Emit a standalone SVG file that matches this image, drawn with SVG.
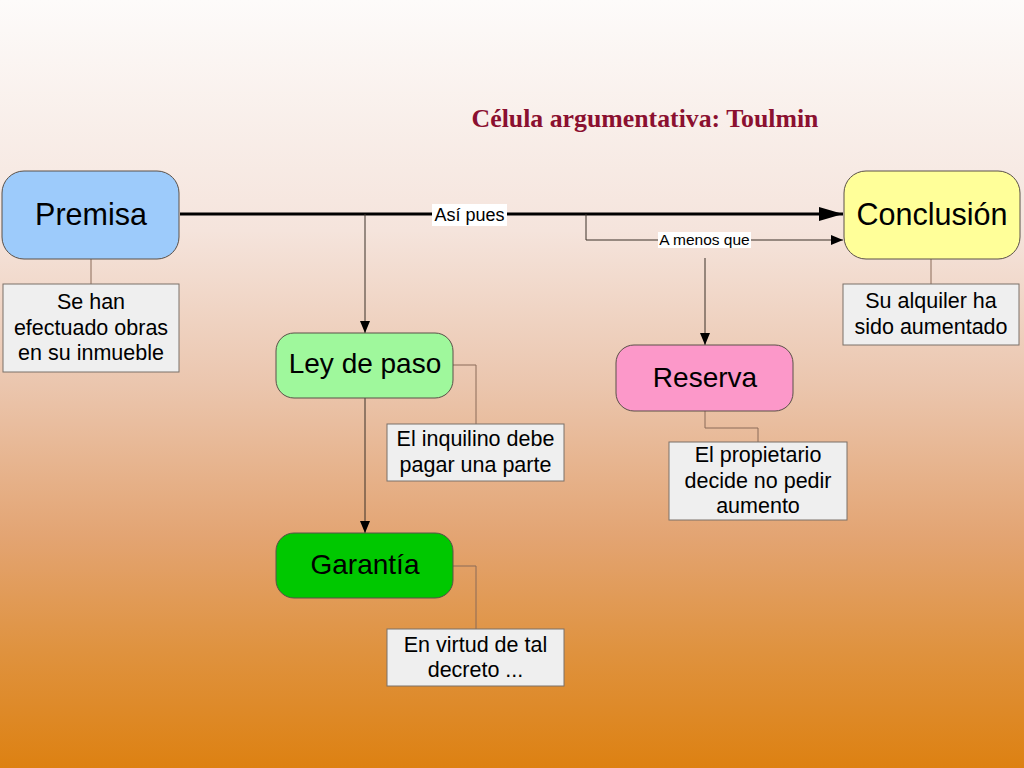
<svg xmlns="http://www.w3.org/2000/svg" width="1024" height="768" viewBox="0 0 1024 768">
<defs>
<linearGradient id="bg" x1="0" y1="0" x2="0" y2="1">
<stop offset="0" stop-color="#fdfbfa"/>
<stop offset="0.3" stop-color="#f5e4dc"/>
<stop offset="0.5" stop-color="#ebc6ae"/>
<stop offset="0.7" stop-color="#e3a472"/>
<stop offset="0.85" stop-color="#df923e"/>
<stop offset="1" stop-color="#dd8112"/>
</linearGradient>
<marker id="big" viewBox="0 0 24 14" refX="24" refY="7" markerWidth="24" markerHeight="14" markerUnits="userSpaceOnUse" orient="auto">
<path d="M0,0 L24,7 L0,14 Z" fill="#000"/>
</marker>
<marker id="small" viewBox="0 0 12 10" refX="12" refY="5" markerWidth="12" markerHeight="10" markerUnits="userSpaceOnUse" orient="auto">
<path d="M0,0 L12,5 L0,10 Z" fill="#000"/>
</marker>
<style>
.node{stroke:#5a5048;stroke-width:1}
.note{fill:#efefef;stroke:#7a7068;stroke-width:1}
.big{font-family:"Liberation Sans",Arial,sans-serif;font-size:30.5px;fill:#000;text-anchor:middle}
.mid{font-family:"Liberation Sans",Arial,sans-serif;font-size:28px;fill:#000;text-anchor:middle}
.nt{font-family:"Liberation Sans",Arial,sans-serif;font-size:21.5px;fill:#000;text-anchor:middle}
.lbl{font-family:"Liberation Sans",Arial,sans-serif;fill:#000;text-anchor:middle}
.thin{fill:none;stroke:#3a3028;stroke-width:1}
.link{fill:none;stroke:#8a6a58;stroke-width:1}
</style>
</defs>
<rect x="0" y="0" width="1024" height="768" fill="url(#bg)"/>
<text x="645" y="127" font-family="Liberation Serif,'Times New Roman',serif" font-size="25.8" font-weight="bold" fill="#8b1030" text-anchor="middle">Célula argumentativa: Toulmin</text>

<g id="connectors">
<line x1="180" y1="214" x2="843" y2="214" stroke="#000" stroke-width="3" marker-end="url(#big)"/>
<polyline class="thin" points="365,214 365,333" marker-end="url(#small)"/>
<polyline class="thin" points="365,398 365,533" marker-end="url(#small)"/>
<polyline class="thin" points="586,214 586,240 843,240" marker-end="url(#small)"/>
<polyline class="thin" points="705,258 705,345" marker-end="url(#small)"/>
<line class="link" x1="91" y1="259" x2="91" y2="284"/>
<line class="link" x1="931" y1="259" x2="931" y2="284"/>
<polyline class="link" points="453,365 476,365 476,424"/>
<polyline class="link" points="453,566 476,566 476,629"/>
<polyline class="link" points="705,411 705,428 758,428 758,442"/>
<rect x="432" y="204" width="75" height="22" fill="#fff"/>
<text class="lbl" x="469.5" y="221" font-size="18">Así pues</text>
<rect x="658" y="232" width="93" height="16" fill="#fff"/>
<text class="lbl" x="704.5" y="245" font-size="15.5">A menos que</text>
</g>

<g id="premisa">
<rect class="node" x="2" y="171" width="177" height="88" rx="22" fill="#9dcbfb"/>
<text class="big" x="91" y="225">Premisa</text>
</g>
<g id="premisa-nota">
<rect class="note" x="3" y="284" width="176" height="88"/>
<text class="nt" x="91" y="309">Se han</text>
<text class="nt" x="91" y="335">efectuado obras</text>
<text class="nt" x="91" y="360">en su inmueble</text>
</g>

<g id="conclusion">
<rect class="node" x="844" y="171" width="176" height="88" rx="22" fill="#ffff99"/>
<text class="big" x="932" y="225">Conclusión</text>
</g>
<g id="conclusion-nota">
<rect class="note" x="843" y="284" width="176" height="61"/>
<text class="nt" x="931" y="308">Su alquiler ha</text>
<text class="nt" x="931" y="334">sido aumentado</text>
</g>

<g id="ley-de-paso">
<rect class="node" x="276" y="333" width="177" height="65" rx="18" fill="#9ff89c"/>
<text class="mid" x="365" y="373">Ley de paso</text>
</g>
<g id="ley-nota">
<rect class="note" x="387" y="424" width="177" height="57"/>
<text class="nt" x="475.5" y="446">El inquilino debe</text>
<text class="nt" x="475.5" y="472">pagar una parte</text>
</g>

<g id="garantia">
<rect class="node" x="276" y="533" width="177" height="65" rx="18" fill="#00c800"/>
<text class="mid" x="365" y="574">Garantía</text>
</g>
<g id="garantia-nota">
<rect class="note" x="387" y="629" width="177" height="57"/>
<text class="nt" x="475.5" y="652">En virtud de tal</text>
<text class="nt" x="475.5" y="677">decreto ...</text>
</g>

<g id="reserva">
<rect class="node" x="616" y="345" width="177" height="66" rx="18" fill="#fc98c9"/>
<text class="mid" x="705" y="387">Reserva</text>
</g>
<g id="reserva-nota">
<rect class="note" x="669" y="442" width="178" height="78"/>
<text class="nt" x="758" y="462">El propietario</text>
<text class="nt" x="758" y="488">decide no pedir</text>
<text class="nt" x="758" y="513">aumento</text>
</g>
</svg>
